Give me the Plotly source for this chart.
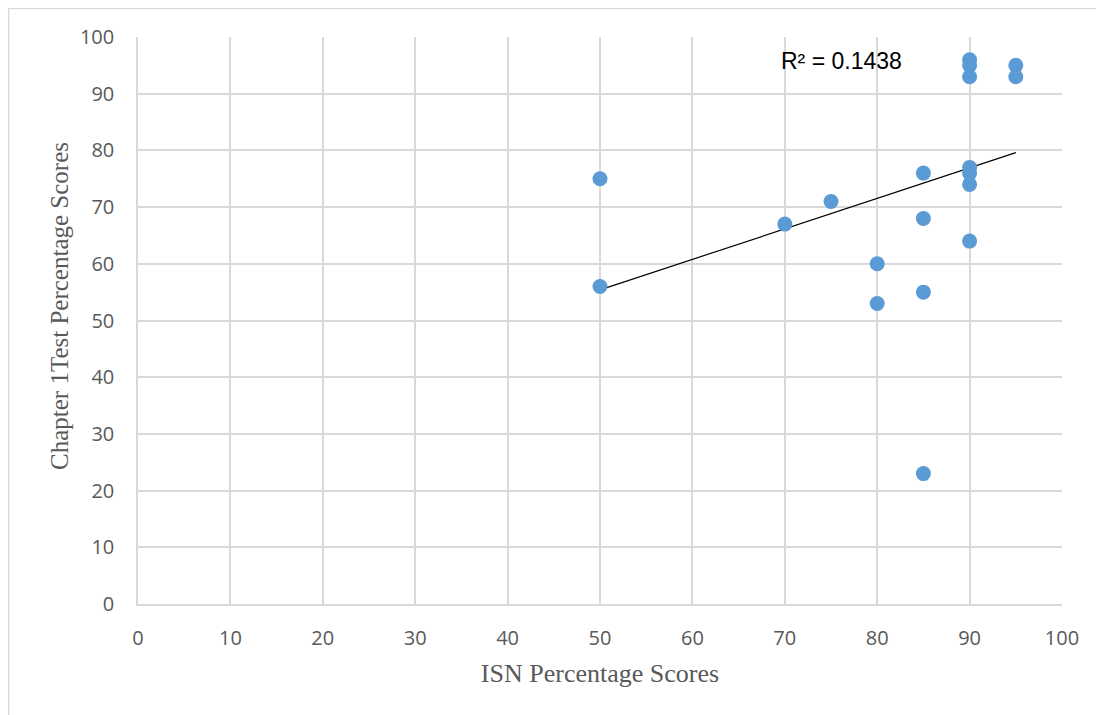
import plotly.graph_objects as go

# Data
isn_scores = [50, 50, 70, 75, 80, 80, 85, 85, 85, 85, 90, 90, 90, 90, 90, 90, 90, 95, 95]
test_scores = [75, 56, 67, 71, 60, 53, 76, 68, 55, 23, 96, 95, 93, 77, 76, 74, 64, 95, 93]

# Linear trendline endpoints
trend_x = [50, 95]
trend_y = [55.4, 79.6]
r2_label = "R² = 0.1438"

x_ticks = list(range(0, 101, 10))
y_ticks = list(range(0, 101, 10))

fig = go.Figure()
fig.add_trace(go.Scatter(
    x=trend_x, y=trend_y, mode="lines",
    line=dict(color="black", width=1.2), showlegend=False, hoverinfo="skip"))
fig.add_trace(go.Scatter(
    x=isn_scores, y=test_scores, mode="markers",
    marker=dict(size=15, color="#5B9BD5"), showlegend=False))

fig.add_annotation(x=76.1, y=95.8, text=r2_label, showarrow=False,
                   font=dict(family="Liberation Sans, Arial", size=23, color="black"),
                   xanchor="center", yanchor="middle")

# y axis title (placed as annotation to match the original's vertical offset)
fig.add_annotation(xref="paper", yref="paper", x=-0.0844, y=0.5256,
                   text="Chapter 1Test Percentage Scores", showarrow=False, textangle=-90,
                   font=dict(family="Liberation Serif, Times New Roman", size=25, color="#595959"),
                   xanchor="center", yanchor="middle")

# outer chart border
fig.add_shape(type="rect", xref="paper", yref="paper",
              x0=-0.1401, x1=1.1, y0=-0.3, y1=1.0503,
              line=dict(color="#D9D9D9", width=1.5), layer="below")

axis_common = dict(showgrid=True, gridcolor="#D9D9D9", gridwidth=1.5,
                   zeroline=False, showline=True, linecolor="#D9D9D9", linewidth=1.5,
                   ticks="", tickfont=dict(family="Open Sans, Liberation Sans", size=20, color="#595959"))

fig.update_xaxes(range=[0, 100], tickvals=x_ticks, ticklabelstandoff=15,
                 title_text="ISN Percentage Scores", title_standoff=14,
                 title_font=dict(family="Liberation Serif, Times New Roman", size=26, color="#595959"),
                 **axis_common)
fig.update_yaxes(range=[0, 100], tickvals=y_ticks, ticklabelstandoff=18, **axis_common)

fig.update_layout(width=1104, height=715, plot_bgcolor="white", paper_bgcolor="white",
                  margin=dict(l=130, r=50, t=29, b=119))

fig.write_html("out.html")
